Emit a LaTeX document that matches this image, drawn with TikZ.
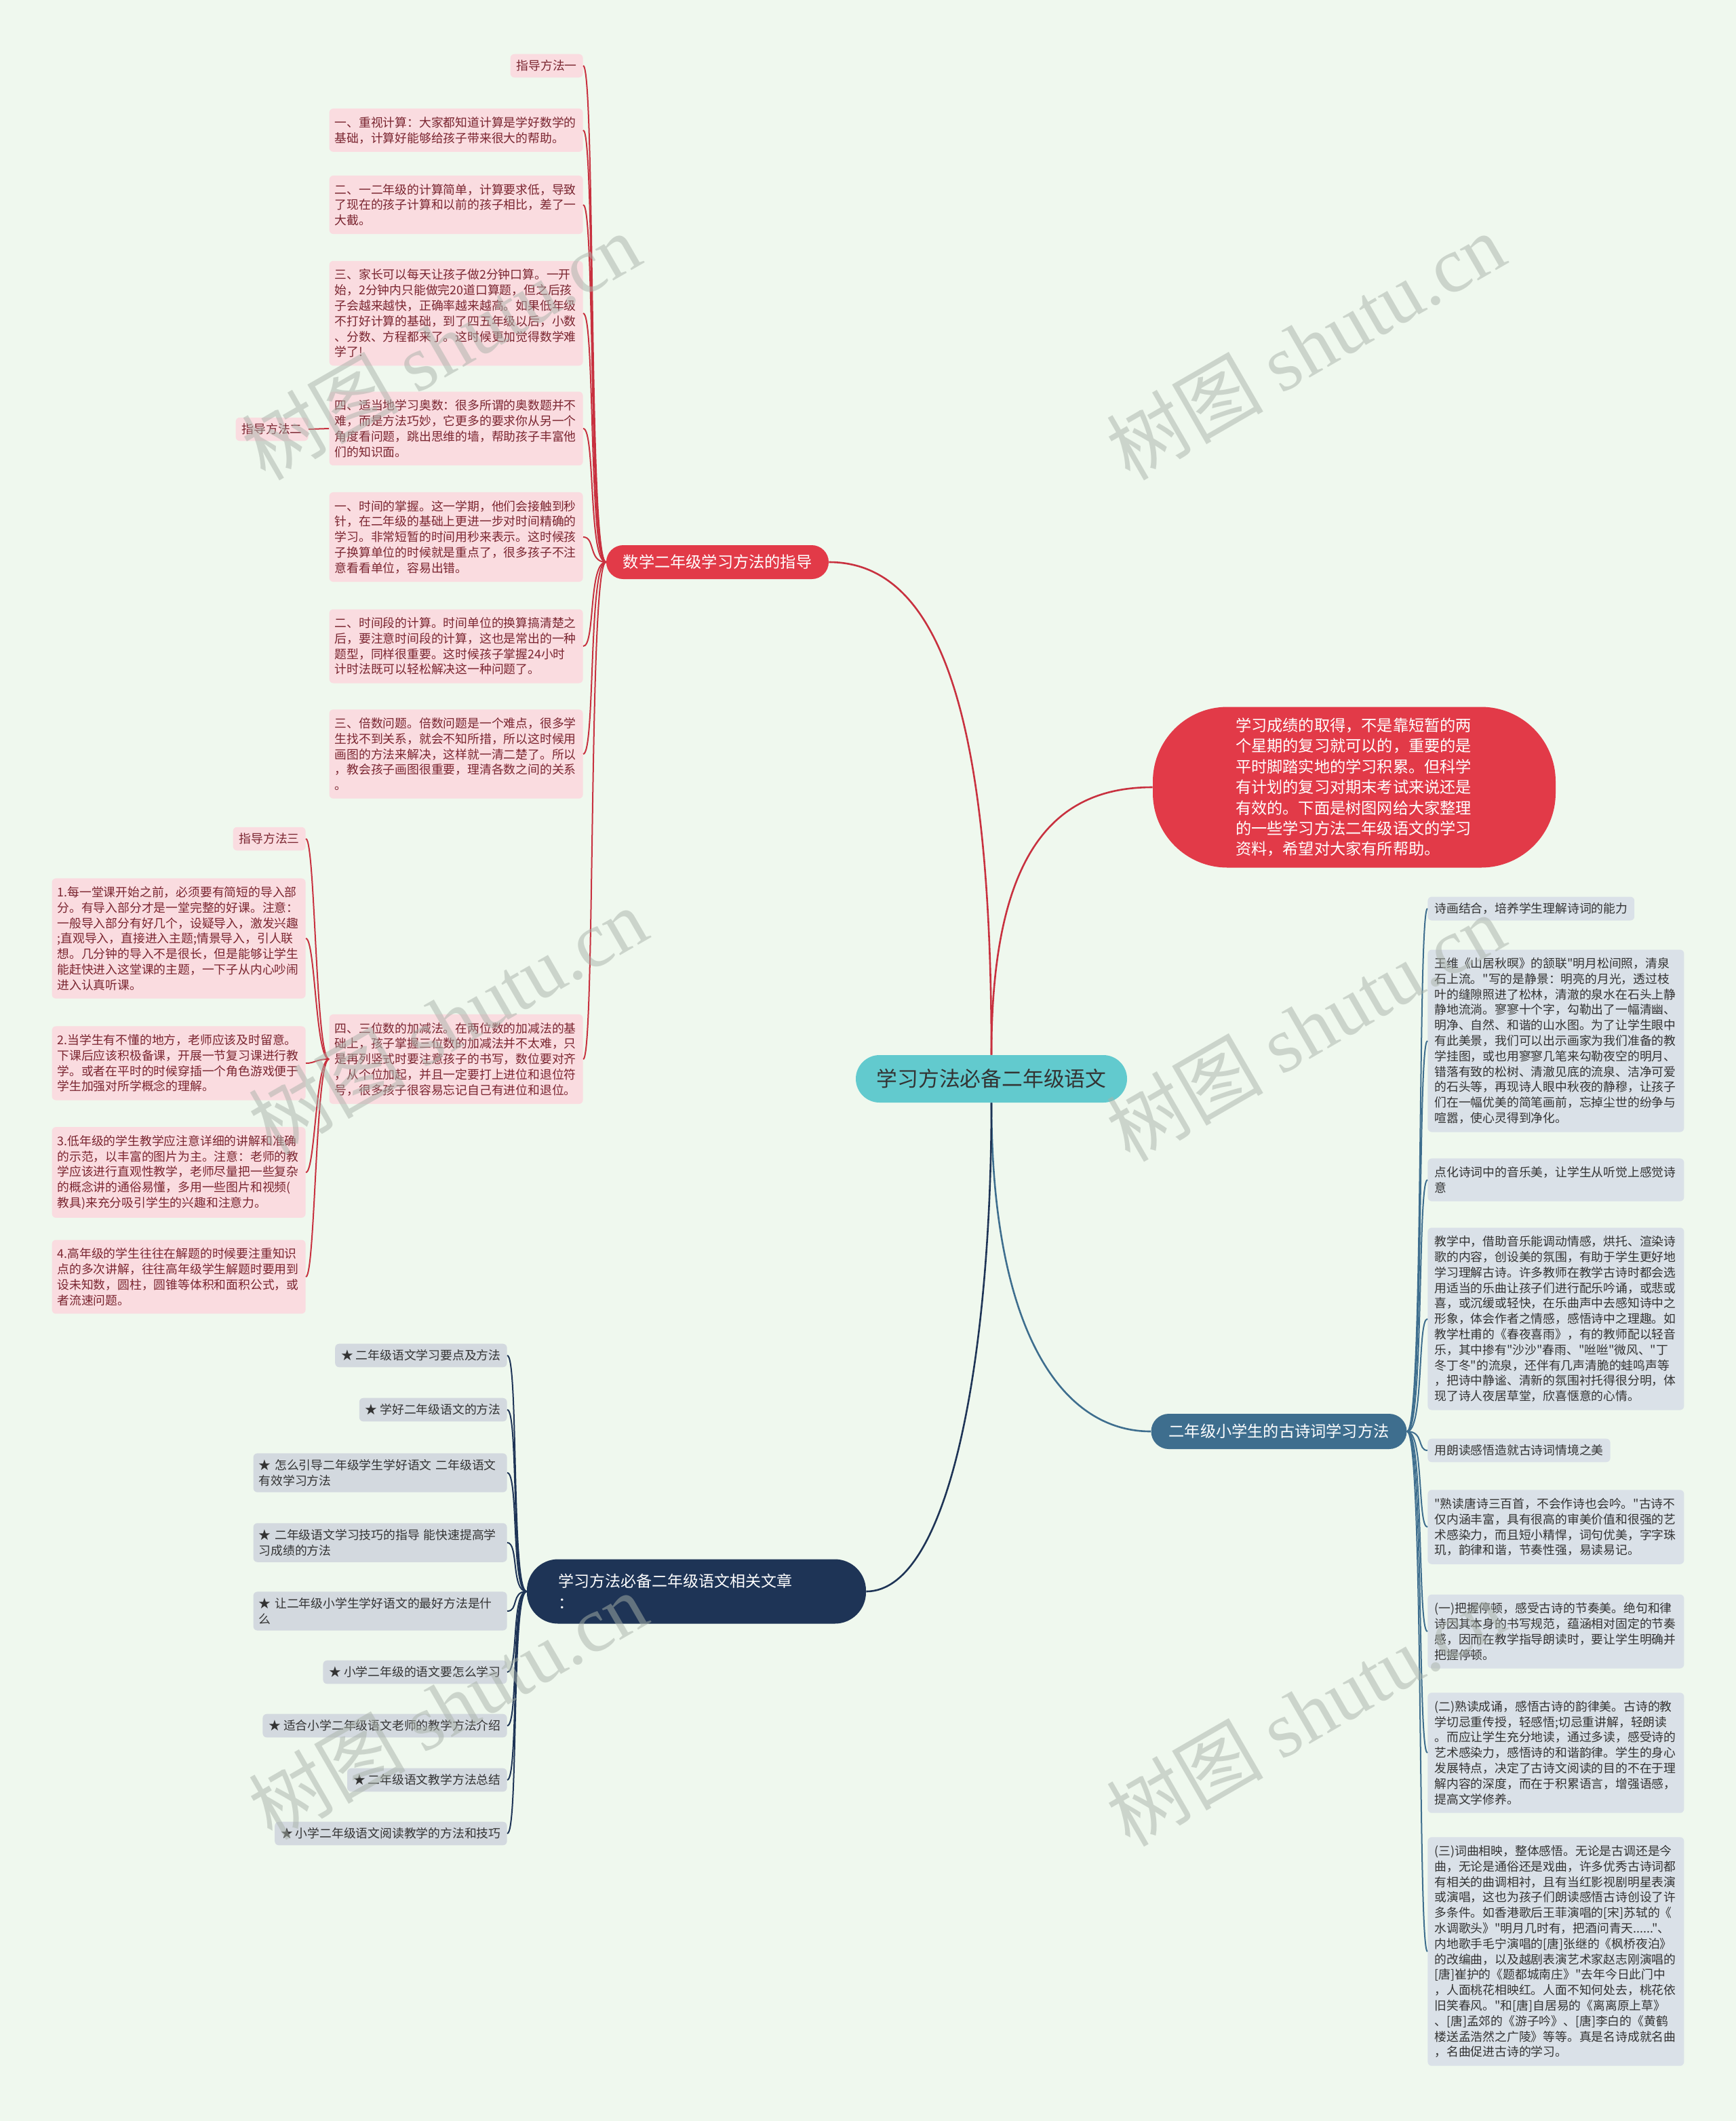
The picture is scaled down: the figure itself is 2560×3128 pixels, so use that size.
\documentclass[tikz,border=0pt]{standalone}
\usepackage{fontspec}
\setmainfont{Noto Sans CJK SC}[Ligatures=TeXOff]
\newfontfamily\marklatin{Liberation Serif}
\definecolor{MapBack}{HTML}{EFF8EE}
\definecolor{MapRed}{HTML}{E23A48}
\definecolor{MapRedLine}{HTML}{C8313F}
\definecolor{MapTeal}{HTML}{62CACE}
\definecolor{MapSteel}{HTML}{3E6E8E}
\definecolor{MapNavy}{HTML}{1E3456}
\definecolor{MapPink}{HTML}{FADCE0}
\definecolor{MapPinkText}{HTML}{7A2530}
\definecolor{MapBlueGray}{HTML}{DAE1E8}
\definecolor{MapGray}{HTML}{D3D9DF}
\definecolor{MapInk}{HTML}{333333}
\definecolor{MapMark}{HTML}{A9B2A9}

\begin{document}
\begin{tikzpicture}[x=0.5pt, y=-0.5pt,
    leaffont/.style={font=\fontsize{8.9}{11.4}\selectfont},
    pinkleaf/.style={leaffont, fill=MapPink, text=MapPinkText, rounded corners=3pt,
        align=left, text width=179pt, inner xsep=4pt, inner ysep=6pt},
    pinktag/.style={leaffont, fill=MapPink, text=MapPinkText, rounded corners=3pt,
        inner xsep=4.5pt, inner ysep=4.5pt},
    blueleaf/.style={leaffont, fill=MapBlueGray, text=MapInk, rounded corners=3pt,
        align=left, text width=179pt, inner xsep=5pt, inner ysep=6pt},
    bluetag/.style={leaffont, fill=MapBlueGray, text=MapInk, rounded corners=3pt,
        inner xsep=5pt, inner ysep=4.5pt},
    grayleaf/.style={leaffont, fill=MapGray, text=MapInk, rounded corners=3pt,
        align=left, text width=179pt, inner xsep=4pt, inner ysep=4.5pt},
    graytag/.style={leaffont, fill=MapGray, text=MapInk, rounded corners=3pt,
        inner xsep=4.5pt, inner ysep=4.5pt},
    branch/.style={text=white, font=\fontsize{11.6}{15.2}\selectfont},
    redlink/.style={MapRedLine, line width=1.3pt},
    redleaf/.style={MapRedLine, line width=1pt},
    steellink/.style={MapSteel, line width=1.3pt},
    steelleaf/.style={MapSteel, line width=1pt},
    navylink/.style={MapNavy, line width=1.3pt},
    navyleaf/.style={MapNavy, line width=1pt},
    watermark/.style={text=MapMark, opacity=0.5, rotate=30, font=\fontsize{58}{58}\selectfont}
]
    % Canvas
    \useasboundingbox (0,0) rectangle (2560,3128);
    \fill[MapBack] (0,0) rectangle (2560,3128);

    % Centre and main branches
    \node[fill=MapTeal, text=MapInk, rounded corners=17.5pt, minimum width=200pt,
        minimum height=35pt, font=\fontsize{15.4}{18}\selectfont] (root) at (1462,1591)
        {学习方法必备二年级语文};
    \node[branch, fill=MapRed, rounded corners=12.5pt, minimum width=164pt,
        minimum height=25pt] (shuxue) at (1058,829) {数学二年级学习方法的指导};
    \node[branch, fill=MapRed, rounded corners=55pt, align=left, text width=175pt,
        inner xsep=61pt, minimum height=118.5pt] (intro) at (1997,1161)
        {学习成绩的取得，不是靠短暂的两\\个星期的复习就可以的，重要的是\\平时脚踏实地的学习积累。但科学\\有计划的复习对期末考试来说还是\\有效的。下面是树图网给大家整理\\的一些学习方法二年级语文的学习\\资料，希望对大家有所帮助。};
    \node[branch, fill=MapSteel, rounded corners=13pt, minimum width=188.5pt,
        minimum height=26pt] (gushi) at (1886,2111) {二年级小学生的古诗词学习方法};
    \node[branch, fill=MapNavy, rounded corners=23pt, align=left, text width=204pt,
        inner xsep=23pt, minimum height=47.5pt, font=\fontsize{11.5}{16}\selectfont]
        (wenzhang) at (1027,2347) {学习方法必备二年级语文相关文章\\：};

    \draw[redlink] (shuxue.east) .. controls +(178,0) and +(0,-456) .. (root.north);
    \draw[redlink] (root.north) .. controls +(0,-306) and +(-140,0) .. (intro.west);
    \draw[steellink] (root.south) .. controls +(0,324) and +(-138,0) .. (gushi.west);
    \draw[navylink] (root.south) .. controls +(0,374) and +(123,0) .. (wenzhang.east);

    % Maths branch
    \node[pinktag, anchor=east] (m0) at (860,97) {指导方法一};
    \node[pinkleaf, anchor=east] (m1) at (860,192)
        {一、重视计算：大家都知道计算是学好数学的\\基础，计算好能够给孩子带来很大的帮助。};
    \node[pinkleaf, anchor=east] (m2) at (860,302)
        {二、一二年级的计算简单，计算要求低，导致\\了现在的孩子计算和以前的孩子相比，差了一\\大截。};
    \node[pinkleaf, anchor=east] (m3) at (860,462)
        {三、家长可以每天让孩子做2分钟口算。一开\\始，2分钟内只能做完20道口算题，但之后孩\\子会越来越快，正确率越来越高。如果低年级\\不打好计算的基础，到了四五年级以后，小数\\、分数、方程都来了。这时候更加觉得数学难\\学了!};
    \node[pinkleaf, anchor=east] (m4) at (860,632)
        {四、适当地学习奥数：很多所谓的奥数题并不\\难，而是方法巧妙，它更多的要求你从另一个\\角度看问题，跳出思维的墙，帮助孩子丰富他\\们的知识面。};
    \node[pinkleaf, anchor=east] (m5) at (860,792)
        {一、时间的掌握。这一学期，他们会接触到秒\\针，在二年级的基础上更进一步对时间精确的\\学习。非常短暂的时间用秒来表示。这时候孩\\子换算单位的时候就是重点了，很多孩子不注\\意看看单位，容易出错。};
    \node[pinkleaf, anchor=east] (m6) at (860,953)
        {二、时间段的计算。时间单位的换算搞清楚之\\后，要注意时间段的计算，这也是常出的一种\\题型，同样很重要。这时候孩子掌握24小时\\计时法既可以轻松解决这一种问题了。};
    \node[pinkleaf, anchor=east] (m7) at (860,1112)
        {三、倍数问题。倍数问题是一个难点，很多学\\生找不到关系，就会不知所措，所以这时候用\\画图的方法来解决，这样就一清二楚了。所以\\，教会孩子画图很重要，理清各数之间的关系\\。};
    \node[pinkleaf, anchor=east] (m8) at (860,1562)
        {四、三位数的加减法。在两位数的加减法的基\\础上，孩子掌握三位数的加减法并不太难，只\\是再列竖式时要注意孩子的书写，数位要对齐\\，从个位加起，并且一定要打上进位和退位符\\号，很多孩子很容易忘记自己有进位和退位。};

    \draw[redleaf] (shuxue.west) .. controls +(-26,0) and +(18,0) .. (m0.east);
    \draw[redleaf] (shuxue.west) .. controls +(-26,0) and +(18,0) .. (m1.east);
    \draw[redleaf] (shuxue.west) .. controls +(-26,0) and +(18,0) .. (m2.east);
    \draw[redleaf] (shuxue.west) .. controls +(-26,0) and +(18,0) .. (m3.east);
    \draw[redleaf] (shuxue.west) .. controls +(-26,0) and +(18,0) .. (m4.east);
    \draw[redleaf] (shuxue.west) .. controls +(-26,0) and +(18,0) .. (m5.east);
    \draw[redleaf] (shuxue.west) .. controls +(-26,0) and +(18,0) .. (m6.east);
    \draw[redleaf] (shuxue.west) .. controls +(-26,0) and +(18,0) .. (m7.east);
    \draw[redleaf] (shuxue.west) .. controls +(-26,0) and +(18,0) .. (m8.east);

    % Method two tag
    \node[pinktag, anchor=east] (fa2) at (455,633) {指导方法二};
    \draw[redleaf] (m4.west) -- (fa2.east);

    % Method three group
    \node[pinktag, anchor=east] (l0) at (451,1237) {指导方法三};
    \node[pinkleaf, anchor=east] (l1) at (451,1384)
        {1.每一堂课开始之前，必须要有简短的导入部\\分。有导入部分才是一堂完整的好课。注意：\\一般导入部分有好几个，设疑导入，激发兴趣\\;直观导入，直接进入主题;情景导入，引人联\\想。几分钟的导入不是很长，但是能够让学生\\能赶快进入这堂课的主题，一下子从内心吵闹\\进入认真听课。};
    \node[pinkleaf, anchor=east] (l2) at (451,1568)
        {2.当学生有不懂的地方，老师应该及时留意。\\下课后应该积极备课，开展一节复习课进行教\\学。或者在平时的时候穿插一个角色游戏便于\\学生加强对所学概念的理解。};
    \node[pinkleaf, anchor=east] (l3) at (451,1729)
        {3.低年级的学生教学应注意详细的讲解和准确\\的示范，以丰富的图片为主。注意：老师的教\\学应该进行直观性教学，老师尽量把一些复杂\\的概念讲的通俗易懂，多用一些图片和视频(\\教具)来充分吸引学生的兴趣和注意力。};
    \node[pinkleaf, anchor=east] (l4) at (451,1883)
        {4.高年级的学生往往在解题的时候要注重知识\\点的多次讲解，往往高年级学生解题时要用到\\设未知数，圆柱，圆锥等体积和面积公式，或\\者流速问题。};

    \draw[redleaf] (m8.west) .. controls +(-20,0) and +(14,0) .. (l0.east);
    \draw[redleaf] (m8.west) .. controls +(-20,0) and +(14,0) .. (l1.east);
    \draw[redleaf] (m8.west) .. controls +(-20,0) and +(14,0) .. (l2.east);
    \draw[redleaf] (m8.west) .. controls +(-20,0) and +(14,0) .. (l3.east);
    \draw[redleaf] (m8.west) .. controls +(-20,0) and +(14,0) .. (l4.east);

    % Poetry branch
    \node[bluetag, anchor=west] (r0) at (2105,1340) {诗画结合，培养学生理解诗词的能力};
    \node[blueleaf, anchor=west] (r1) at (2105,1535)
        {王维《山居秋暝》的颔联"明月松间照，清泉\\石上流。"写的是静景：明亮的月光，透过枝\\叶的缝隙照进了松林，清澈的泉水在石头上静\\静地流淌。寥寥十个字，勾勒出了一幅清幽、\\明净、自然、和谐的山水图。为了让学生眼中\\有此美景，我们可以出示画家为我们准备的教\\学挂图，或也用寥寥几笔来勾勒夜空的明月、\\错落有致的松树、清澈见底的流泉、洁净可爱\\的石头等，再现诗人眼中秋夜的静穆，让孩子\\们在一幅优美的简笔画前，忘掉尘世的纷争与\\喧嚣，使心灵得到净化。};
    \node[blueleaf, anchor=west] (r2) at (2105,1740)
        {点化诗词中的音乐美，让学生从听觉上感觉诗\\意};
    \node[blueleaf, anchor=west] (r3) at (2105,1945)
        {教学中，借助音乐能调动情感，烘托、渲染诗\\歌的内容，创设美的氛围，有助于学生更好地\\学习理解古诗。许多教师在教学古诗时都会选\\用适当的乐曲让孩子们进行配乐吟诵，或悲或\\喜，或沉缓或轻快，在乐曲声中去感知诗中之\\形象，体会作者之情感，感悟诗中之理趣。如\\教学杜甫的《春夜喜雨》，有的教师配以轻音\\乐，其中掺有"沙沙"春雨、"咝咝"微风、"丁\\冬丁冬"的流泉，还伴有几声清脆的蛙鸣声等\\，把诗中静谧、清新的氛围衬托得很分明，体\\现了诗人夜居草堂，欣喜惬意的心情。};
    \node[bluetag, anchor=west] (r4) at (2105,2139) {用朗读感悟造就古诗词情境之美};
    \node[blueleaf, anchor=west] (r5) at (2105,2252)
        {"熟读唐诗三百首，不会作诗也会吟。"古诗不\\仅内涵丰富，具有很高的审美价值和很强的艺\\术感染力，而且短小精悍，词句优美，字字珠\\玑，韵律和谐，节奏性强，易读易记。};
    \node[blueleaf, anchor=west] (r6) at (2105,2406)
        {(一)把握停顿，感受古诗的节奏美。绝句和律\\诗因其本身的书写规范，蕴涵相对固定的节奏\\感，因而在教学指导朗读时，要让学生明确并\\把握停顿。};
    \node[blueleaf, anchor=west] (r7) at (2105,2585)
        {(二)熟读成诵，感悟古诗的韵律美。古诗的教\\学切忌重传授，轻感悟;切忌重讲解，轻朗读\\。而应让学生充分地读，通过多读，感受诗的\\艺术感染力，感悟诗的和谐韵律。学生的身心\\发展特点，决定了古诗文阅读的目的不在于理\\解内容的深度，而在于积累语言，增强语感，\\提高文学修养。};
    \node[blueleaf, anchor=west] (r8) at (2105,2878)
        {(三)词曲相映，整体感悟。无论是古调还是今\\曲，无论是通俗还是戏曲，许多优秀古诗词都\\有相关的曲调相衬，且有当红影视剧明星表演\\或演唱，这也为孩子们朗读感悟古诗创设了许\\多条件。如香港歌后王菲演唱的[宋]苏轼的《\\水调歌头》"明月几时有，把酒问青天......"、\\内地歌手毛宁演唱的[唐]张继的《枫桥夜泊》\\的改编曲，以及越剧表演艺术家赵志刚演唱的\\{}[唐]崔护的《题都城南庄》"去年今日此门中\\，人面桃花相映红。人面不知何处去，桃花依\\旧笑春风。"和[唐]自居易的《离离原上草》\\、[唐]孟郊的《游子吟》、[唐]李白的《黄鹤\\楼送孟浩然之广陵》等等。真是名诗成就名曲\\，名曲促进古诗的学习。};

    \draw[steelleaf] (gushi.east) .. controls +(25,0) and +(-15,0) .. (r0.west);
    \draw[steelleaf] (gushi.east) .. controls +(25,0) and +(-15,0) .. (r1.west);
    \draw[steelleaf] (gushi.east) .. controls +(25,0) and +(-15,0) .. (r2.west);
    \draw[steelleaf] (gushi.east) .. controls +(25,0) and +(-15,0) .. (r3.west);
    \draw[steelleaf] (gushi.east) .. controls +(25,0) and +(-15,0) .. (r4.west);
    \draw[steelleaf] (gushi.east) .. controls +(25,0) and +(-15,0) .. (r5.west);
    \draw[steelleaf] (gushi.east) .. controls +(25,0) and +(-15,0) .. (r6.west);
    \draw[steelleaf] (gushi.east) .. controls +(25,0) and +(-15,0) .. (r7.west);
    \draw[steelleaf] (gushi.east) .. controls +(25,0) and +(-15,0) .. (r8.west);

    % Related articles branch
    \node[graytag, anchor=east] (a1) at (748,1999) {★ 二年级语文学习要点及方法};
    \node[graytag, anchor=east] (a2) at (748,2079) {★ 学好二年级语文的方法};
    \node[grayleaf, anchor=east] (a3) at (748,2172)
        {★ 怎么引导二年级学生学好语文 二年级语文\\有效学习方法};
    \node[grayleaf, anchor=east] (a4) at (748,2275)
        {★ 二年级语文学习技巧的指导 能快速提高学\\习成绩的方法};
    \node[grayleaf, anchor=east] (a5) at (748,2376)
        {★ 让二年级小学生学好语文的最好方法是什\\么};
    \node[graytag, anchor=east] (a6) at (748,2466) {★ 小学二年级的语文要怎么学习};
    \node[graytag, anchor=east] (a7) at (748,2545) {★ 适合小学二年级语文老师的教学方法介绍};
    \node[graytag, anchor=east] (a8) at (748,2625) {★ 二年级语文教学方法总结};
    \node[graytag, anchor=east] (a9) at (748,2704) {★ 小学二年级语文阅读教学的方法和技巧};

    \draw[navyleaf] (wenzhang.west) .. controls +(-23,0) and +(17,0) .. (a1.east);
    \draw[navyleaf] (wenzhang.west) .. controls +(-23,0) and +(17,0) .. (a2.east);
    \draw[navyleaf] (wenzhang.west) .. controls +(-23,0) and +(17,0) .. (a3.east);
    \draw[navyleaf] (wenzhang.west) .. controls +(-23,0) and +(17,0) .. (a4.east);
    \draw[navyleaf] (wenzhang.west) .. controls +(-23,0) and +(17,0) .. (a5.east);
    \draw[navyleaf] (wenzhang.west) .. controls +(-23,0) and +(17,0) .. (a6.east);
    \draw[navyleaf] (wenzhang.west) .. controls +(-23,0) and +(17,0) .. (a7.east);
    \draw[navyleaf] (wenzhang.west) .. controls +(-23,0) and +(17,0) .. (a8.east);
    \draw[navyleaf] (wenzhang.west) .. controls +(-23,0) and +(17,0) .. (a9.east);

    % Watermarks
    \node[watermark] (wm1) at (650,510) {树图 {\marklatin shutu.cn}};
    \node[watermark] (wm2) at (1925,510) {树图 {\marklatin shutu.cn}};
    \node[watermark] (wm3) at (660,1505) {树图 {\marklatin shutu.cn}};
    \node[watermark] (wm4) at (1925,1515) {树图 {\marklatin shutu.cn}};
    \node[watermark] (wm5) at (660,2515) {树图 {\marklatin shutu.cn}};
    \node[watermark] (wm6) at (1925,2525) {树图 {\marklatin shutu.cn}};
\end{tikzpicture}
\end{document}
